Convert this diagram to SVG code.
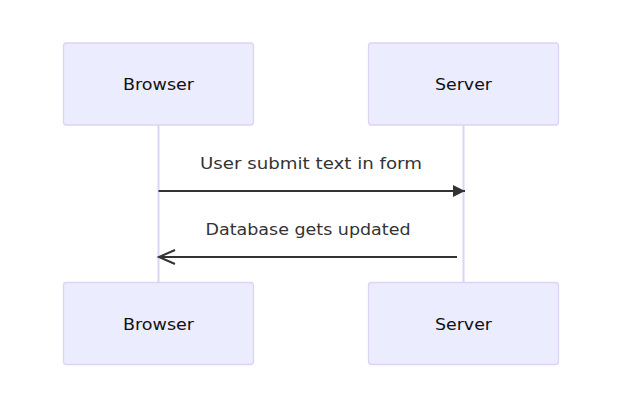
<svg xmlns="http://www.w3.org/2000/svg" width="622" height="409" viewBox="0 0 622 409">
<style>
.actor{fill:#ECECFF;stroke:#DCD3F5;stroke-width:1.3}
.label{font-family:"DejaVu Sans","Open Sans",sans-serif;font-size:16px;fill:#111;text-anchor:middle;dominant-baseline:central}
.msg{font-family:"DejaVu Sans","Open Sans",sans-serif;font-size:16px;fill:#333;text-anchor:middle}
.life{stroke:#DCD3F5;stroke-width:2}
.line{stroke:#333;stroke-width:2;fill:none}
</style>
<defs>
<marker id="filled" markerWidth="12" markerHeight="12" refX="12" refY="6" orient="auto" markerUnits="userSpaceOnUse">
<path d="M0,0 L12,6 L0,12 z" fill="#333"/>
</marker>
<marker id="open" markerWidth="20" markerHeight="16" refX="17" refY="8" orient="auto" markerUnits="userSpaceOnUse">
<path d="M1,1 L17,8 L1,15" fill="none" stroke="#333" stroke-width="2"/>
</marker>
</defs>
<g id="lifelines">
<line class="life" x1="158.5" y1="125" x2="158.5" y2="282"/>
<line class="life" x1="463.5" y1="125" x2="463.5" y2="282"/>
</g>
<g id="browser-top">
<rect class="actor" x="63.5" y="43" width="190" height="82" rx="3"/>
<text class="label" x="158.5" y="84" textLength="71" lengthAdjust="spacingAndGlyphs">Browser</text>
</g>
<g id="server-top">
<rect class="actor" x="368.5" y="43" width="190" height="82" rx="3"/>
<text class="label" x="463.5" y="84" textLength="57" lengthAdjust="spacingAndGlyphs">Server</text>
</g>
<g id="browser-bottom">
<rect class="actor" x="63.5" y="282.5" width="190" height="82" rx="3"/>
<text class="label" x="158.5" y="324" textLength="71" lengthAdjust="spacingAndGlyphs">Browser</text>
</g>
<g id="server-bottom">
<rect class="actor" x="368.5" y="282.5" width="190" height="82" rx="3"/>
<text class="label" x="463.5" y="324" textLength="57" lengthAdjust="spacingAndGlyphs">Server</text>
</g>
<g id="connectors">
<line class="line" x1="158.5" y1="191" x2="465" y2="191" marker-end="url(#filled)"/>
<text class="msg" x="311" y="169" textLength="222" lengthAdjust="spacingAndGlyphs">User submit text in form</text>
<line class="line" x1="457" y1="257" x2="159" y2="257" marker-end="url(#open)"/>
<text class="msg" x="308" y="235" textLength="205" lengthAdjust="spacingAndGlyphs">Database gets updated</text>
</g>
</svg>
